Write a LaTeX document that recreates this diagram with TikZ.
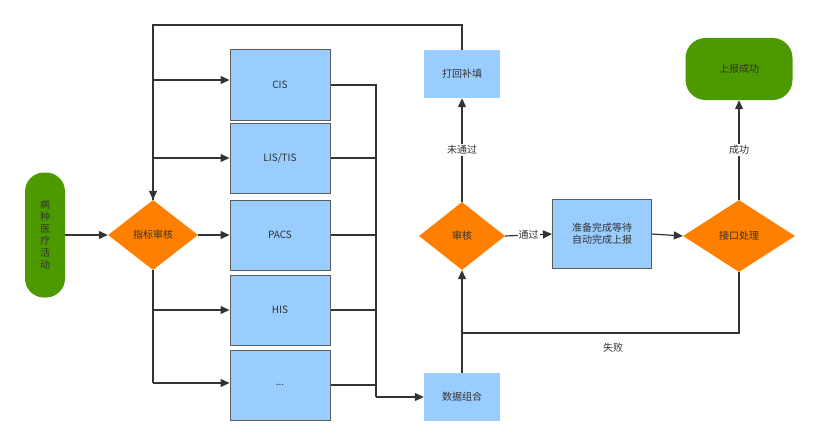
\documentclass[tikz,border=0pt]{standalone}
\usepackage{fontspec}
\setmainfont{Noto Sans CJK SC}
\usetikzlibrary{shapes.geometric,arrows.meta}
\definecolor{bx}{HTML}{99CCFF}
\definecolor{og}{HTML}{FF8000}
\definecolor{gr}{HTML}{4D9900}
\definecolor{ln}{HTML}{333333}
\begin{document}
\begin{tikzpicture}[x=1pt,y=-1pt,font=\fontsize{10}{12}\selectfont,text=ln,
 box/.style={draw=ln!80,line width=1pt,fill=bx,minimum width=100pt,minimum height=70pt,inner sep=0},
 pbox/.style={fill=bx,minimum width=76pt,minimum height=48pt,inner sep=0},
 dia/.style={diamond,fill=og,aspect=1.3,inner sep=0},
 term/.style={fill=gr,rounded corners=20pt,inner sep=0},
 ar/.style={draw=ln,line width=1.2pt,-{Triangle[length=9pt,width=8pt]}},
 l/.style={draw=ln,line width=1.2pt},
 lab/.style={fill=white,inner sep=1pt}]
\useasboundingbox (0,0) rectangle (818,444);
\node[term,minimum width=40pt,minimum height=125pt,rounded corners=19pt,align=center] (src) at (45,235) {病\\种\\医\\疗\\活\\动};
\node[dia,minimum width=90pt,minimum height=70pt] (d1) at (153,235) {指标审核};
\node[box] (cis) at (280,85) {CIS};
\node[box] (lis) at (280,158) {LIS/TIS};
\node[box] (pacs) at (280,235) {PACS};
\node[box] (his) at (280,310) {HIS};
\node[box] (dots) at (280,385) {...};
\node[pbox] (comb) at (462,397) {数据组合};
\node[dia,minimum width=86pt,minimum height=68pt] (d2) at (462,236) {审核};
\node[pbox] (back) at (462,74) {打回补填};
\node[box,minimum width=99pt,minimum height=69pt,align=center] (ready) at (602,234) {准备完成等待\\自动完成上报};
\node[dia,minimum width=112pt,minimum height=72pt] (d3) at (739,236) {接口处理};
\node[term,minimum width=107pt,minimum height=62pt] (ok) at (739,69) {上报成功};
\coordinate (ta) at (153,25);
\coordinate (tb) at (462,25);
\coordinate (j) at (462,333);
\coordinate (f) at (739,333);
\draw[ar] (src) -- (d1);
\draw[ar] (d1) -- (pacs);
\draw[ar] (back.north) -- (tb) -- (ta) -- (d1.north);
\draw[l] (153,80) -- (153,200);
\draw[ar] (153,80) -- (cis.west|-153,80);
\draw[ar] (153,158) -- (lis.west|-153,158);
\draw[l] (d1.south) -- (153,383);
\draw[ar] (153,310) -- (his.west|-153,310);
\draw[ar] (153,383) -- (dots.west|-153,383);
\draw[l] (cis.east|-330,85) -- (376,85) -- (376,397);
\foreach \n in {lis,pacs,his,dots} \draw[l] (\n.east) -- (376,0|-\n.east);
\draw[ar] (376,397) -- (comb.west);
\draw[ar] (comb.north) -- (d2.south);
\draw[ar] (d2.north) -- node[lab,pos=0.5] {未通过} (back.south);
\draw[ar] (d2.east) -- node[lab,pos=0.5] {通过} (ready.west);
\draw[ar] (ready.east) -- (d3.west);
\draw[ar] (d3.north) -- node[lab,pos=0.5] {成功} (ok.south);
\draw[l] (d3.south) -- (f) -- (j);
\node at (613,348) {失败};
\end{tikzpicture}
\end{document}
